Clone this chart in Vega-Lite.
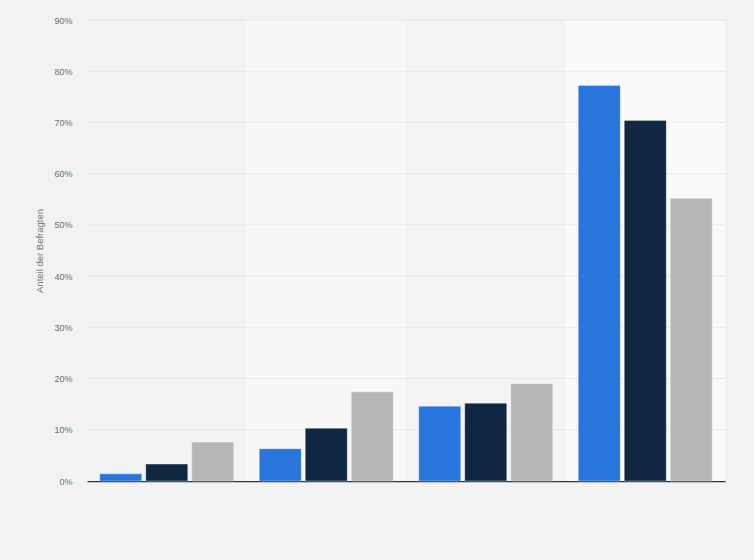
{
  "$schema": "https://vega.github.io/schema/vega-lite/v6.json",
  "autosize": "none",
  "width": 638,
  "height": 461,
  "padding": {"left": 87, "top": 20, "right": 29, "bottom": 79},
  "background": "#f2f2f2",
  "config": {
    "view": {"stroke": null},
    "font": "Liberation Sans",
    "axisX": {"title": null, "labels": false, "ticks": false, "domain": true, "domainColor": "#333333", "domainWidth": 1.5, "grid": false, "zindex": 1},
    "axisY": {
      "titleFontSize": 9.5,
      "titleFontWeight": "normal",
      "titleColor": "#777777",
      "titleX": -43,
      "labelFontSize": 9,
      "labelColor": "#707070",
      "labelPadding": 15,
      "ticks": false,
      "domain": false,
      "grid": false
    }
  },
  "datasets": {
    "bands": [
      {"gruppe": "Gruppe 1"},
      {"gruppe": "Gruppe 2"},
      {"gruppe": "Gruppe 3"},
      {"gruppe": "Gruppe 4"}
    ],
    "grid": [
      {"wert": 10}, {"wert": 20}, {"wert": 30}, {"wert": 40}, {"wert": 50},
      {"wert": 60}, {"wert": 70}, {"wert": 80}, {"wert": 90}
    ],
    "bars": [
      {"gruppe": "Gruppe 1", "serie": "Serie 1", "wert": 1.4},
      {"gruppe": "Gruppe 1", "serie": "Serie 2", "wert": 3.3},
      {"gruppe": "Gruppe 1", "serie": "Serie 3", "wert": 7.6},
      {"gruppe": "Gruppe 2", "serie": "Serie 1", "wert": 6.3},
      {"gruppe": "Gruppe 2", "serie": "Serie 2", "wert": 10.3},
      {"gruppe": "Gruppe 2", "serie": "Serie 3", "wert": 17.4},
      {"gruppe": "Gruppe 3", "serie": "Serie 1", "wert": 14.6},
      {"gruppe": "Gruppe 3", "serie": "Serie 2", "wert": 15.2},
      {"gruppe": "Gruppe 3", "serie": "Serie 3", "wert": 19.0},
      {"gruppe": "Gruppe 4", "serie": "Serie 1", "wert": 77.2},
      {"gruppe": "Gruppe 4", "serie": "Serie 2", "wert": 70.4},
      {"gruppe": "Gruppe 4", "serie": "Serie 3", "wert": 55.2}
    ]
  },
  "layer": [
    {
      "data": {"name": "bands"},
      "mark": {"type": "rect"},
      "encoding": {
        "x": {"field": "gruppe", "type": "nominal", "title": null, "scale": {"paddingInner": 0, "paddingOuter": 0}},
        "color": {
          "field": "gruppe", "type": "nominal",
          "scale": {"domain": ["Gruppe 1", "Gruppe 2", "Gruppe 3", "Gruppe 4"], "range": ["#f3f3f3", "#f8f8f8", "#f4f4f4", "#fafafa"]},
          "legend": null
        }
      }
    },
    {
      "data": {"name": "grid"},
      "mark": {"type": "rule", "stroke": "#dcdcdc", "strokeDash": [1, 1], "strokeWidth": 1},
      "encoding": {
        "y": {
          "field": "wert", "type": "quantitative", "title": "Anteil der Befragten",
          "scale": {"domain": [0, 90], "nice": false},
          "axis": {"values": [0, 10, 20, 30, 40, 50, 60, 70, 80, 90], "labelExpr": "datum.value + '%'"}
        }
      }
    },
    {
      "data": {"name": "bars"},
      "mark": {"type": "bar", "stroke": "#ffffff", "strokeOpacity": 0.35, "strokeWidth": 1},
      "encoding": {
        "x": {"field": "gruppe", "type": "nominal", "title": null, "scale": {"paddingInner": 0, "paddingOuter": 0}},
        "xOffset": {
          "field": "serie", "type": "nominal",
          "scale": {"paddingInner": 0.087, "paddingOuter": 0.277}
        },
        "y": {
          "field": "wert", "type": "quantitative", "title": "Anteil der Befragten",
          "scale": {"domain": [0, 90], "nice": false},
          "axis": {"values": [0, 10, 20, 30, 40, 50, 60, 70, 80, 90], "labelExpr": "datum.value + '%'"}
        },
        "color": {
          "field": "serie", "type": "nominal",
          "scale": {"domain": ["Serie 1", "Serie 2", "Serie 3"], "range": ["#2876dd", "#0f2740", "#b7b7b7"]},
          "legend": null
        }
      }
    }
  ],
  "resolve": {"scale": {"color": "independent"}}
}
